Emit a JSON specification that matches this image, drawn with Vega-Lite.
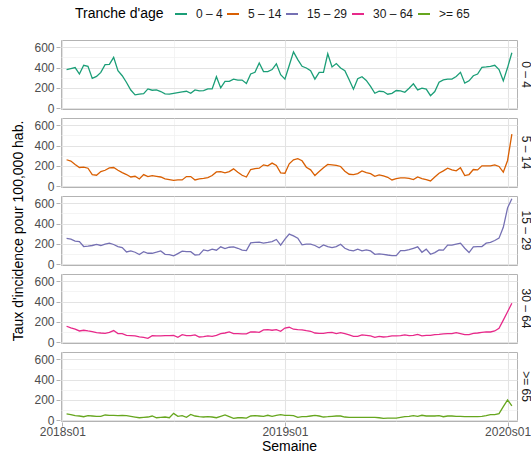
{
 "$schema": "https://vega.github.io/schema/vega-lite/v6.json",
 "padding": {"left": 11, "right": 0, "top": 7, "bottom": 1},
 "data": {"values": [
  {"s":1,"0 – 4":380,"5 – 14":261,"15 – 29":254,"30 – 64":158,">= 65":63},
  {"s":2,"0 – 4":390,"5 – 14":248,"15 – 29":248,"30 – 64":142,">= 65":56},
  {"s":3,"0 – 4":400,"5 – 14":215,"15 – 29":228,"30 – 64":129,">= 65":46},
  {"s":4,"0 – 4":337,"5 – 14":185,"15 – 29":224,"30 – 64":112,">= 65":43},
  {"s":5,"0 – 4":422,"5 – 14":188,"15 – 29":175,"30 – 64":119,">= 65":36},
  {"s":6,"0 – 4":412,"5 – 14":178,"15 – 29":178,"30 – 64":112,">= 65":46},
  {"s":7,"0 – 4":294,"5 – 14":116,"15 – 29":185,"30 – 64":106,">= 65":43},
  {"s":8,"0 – 4":313,"5 – 14":109,"15 – 29":195,"30 – 64":96,">= 65":40},
  {"s":9,"0 – 4":353,"5 – 14":145,"15 – 29":185,"30 – 64":92,">= 65":40},
  {"s":10,"0 – 4":429,"5 – 14":158,"15 – 29":198,"30 – 64":89,">= 65":53},
  {"s":11,"0 – 4":432,"5 – 14":182,"15 – 29":208,"30 – 64":99,">= 65":50},
  {"s":12,"0 – 4":500,"5 – 14":185,"15 – 29":195,"30 – 64":116,">= 65":50},
  {"s":13,"0 – 4":370,"5 – 14":158,"15 – 29":175,"30 – 64":86,">= 65":46},
  {"s":14,"0 – 4":320,"5 – 14":135,"15 – 29":165,"30 – 64":86,">= 65":50},
  {"s":15,"0 – 4":254,"5 – 14":116,"15 – 29":122,"30 – 64":69,">= 65":46},
  {"s":16,"0 – 4":180,"5 – 14":92,"15 – 29":132,"30 – 64":66,">= 65":40},
  {"s":17,"0 – 4":132,"5 – 14":99,"15 – 29":119,"30 – 64":63,">= 65":33},
  {"s":18,"0 – 4":139,"5 – 14":73,"15 – 29":96,"30 – 64":53,">= 65":26},
  {"s":19,"0 – 4":145,"5 – 14":116,"15 – 29":125,"30 – 64":50,">= 65":30},
  {"s":20,"0 – 4":191,"5 – 14":96,"15 – 29":109,"30 – 64":40,">= 65":33},
  {"s":21,"0 – 4":178,"5 – 14":106,"15 – 29":109,"30 – 64":66,">= 65":43},
  {"s":22,"0 – 4":181,"5 – 14":99,"15 – 29":119,"30 – 64":63,">= 65":26},
  {"s":23,"0 – 4":165,"5 – 14":92,"15 – 29":132,"30 – 64":63,">= 65":30},
  {"s":24,"0 – 4":142,"5 – 14":73,"15 – 29":99,"30 – 64":66,">= 65":33},
  {"s":25,"0 – 4":139,"5 – 14":66,"15 – 29":96,"30 – 64":66,">= 65":26},
  {"s":26,"0 – 4":148,"5 – 14":59,"15 – 29":83,"30 – 64":69,">= 65":69},
  {"s":27,"0 – 4":155,"5 – 14":63,"15 – 29":106,"30 – 64":50,">= 65":40},
  {"s":28,"0 – 4":162,"5 – 14":63,"15 – 29":129,"30 – 64":76,">= 65":46},
  {"s":29,"0 – 4":168,"5 – 14":96,"15 – 29":125,"30 – 64":66,">= 65":30},
  {"s":30,"0 – 4":148,"5 – 14":96,"15 – 29":125,"30 – 64":66,">= 65":59},
  {"s":31,"0 – 4":181,"5 – 14":63,"15 – 29":92,"30 – 64":73,">= 65":43},
  {"s":32,"0 – 4":172,"5 – 14":73,"15 – 29":96,"30 – 64":53,">= 65":36},
  {"s":33,"0 – 4":175,"5 – 14":79,"15 – 29":142,"30 – 64":56,">= 65":33},
  {"s":34,"0 – 4":191,"5 – 14":86,"15 – 29":132,"30 – 64":63,">= 65":36},
  {"s":35,"0 – 4":191,"5 – 14":106,"15 – 29":149,"30 – 64":59,">= 65":33},
  {"s":36,"0 – 4":310,"5 – 14":142,"15 – 29":139,"30 – 64":69,">= 65":26},
  {"s":37,"0 – 4":201,"5 – 14":145,"15 – 29":172,"30 – 64":86,">= 65":40},
  {"s":38,"0 – 4":264,"5 – 14":132,"15 – 29":155,"30 – 64":92,">= 65":53},
  {"s":39,"0 – 4":264,"5 – 14":145,"15 – 29":168,"30 – 64":102,">= 65":36},
  {"s":40,"0 – 4":287,"5 – 14":172,"15 – 29":172,"30 – 64":86,">= 65":20},
  {"s":41,"0 – 4":277,"5 – 14":139,"15 – 29":158,"30 – 64":86,">= 65":26},
  {"s":42,"0 – 4":277,"5 – 14":109,"15 – 29":139,"30 – 64":83,">= 65":26},
  {"s":43,"0 – 4":244,"5 – 14":92,"15 – 29":135,"30 – 64":83,">= 65":23},
  {"s":44,"0 – 4":337,"5 – 14":165,"15 – 29":211,"30 – 64":102,">= 65":43},
  {"s":45,"0 – 4":353,"5 – 14":175,"15 – 29":215,"30 – 64":102,">= 65":46},
  {"s":46,"0 – 4":445,"5 – 14":178,"15 – 29":218,"30 – 64":99,">= 65":43},
  {"s":47,"0 – 4":360,"5 – 14":211,"15 – 29":208,"30 – 64":122,">= 65":40},
  {"s":48,"0 – 4":360,"5 – 14":201,"15 – 29":215,"30 – 64":125,">= 65":50},
  {"s":49,"0 – 4":380,"5 – 14":228,"15 – 29":224,"30 – 64":119,">= 65":40},
  {"s":50,"0 – 4":436,"5 – 14":205,"15 – 29":244,"30 – 64":125,">= 65":50},
  {"s":51,"0 – 4":330,"5 – 14":132,"15 – 29":188,"30 – 64":109,">= 65":56},
  {"s":52,"0 – 4":287,"5 – 14":129,"15 – 29":248,"30 – 64":140,">= 65":50},
  {"s":53,"0 – 4":420,"5 – 14":221,"15 – 29":297,"30 – 64":148,">= 65":50},
  {"s":54,"0 – 4":554,"5 – 14":261,"15 – 29":280,"30 – 64":129,">= 65":46},
  {"s":55,"0 – 4":478,"5 – 14":271,"15 – 29":257,"30 – 64":125,">= 65":30},
  {"s":56,"0 – 4":412,"5 – 14":251,"15 – 29":191,"30 – 64":122,">= 65":36},
  {"s":57,"0 – 4":396,"5 – 14":188,"15 – 29":198,"30 – 64":115,">= 65":36},
  {"s":58,"0 – 4":370,"5 – 14":162,"15 – 29":198,"30 – 64":109,">= 65":43},
  {"s":59,"0 – 4":287,"5 – 14":106,"15 – 29":185,"30 – 64":92,">= 65":50},
  {"s":60,"0 – 4":353,"5 – 14":145,"15 – 29":162,"30 – 64":89,">= 65":43},
  {"s":61,"0 – 4":353,"5 – 14":182,"15 – 29":191,"30 – 64":89,">= 65":33},
  {"s":62,"0 – 4":535,"5 – 14":215,"15 – 29":175,"30 – 64":96,">= 65":36},
  {"s":63,"0 – 4":406,"5 – 14":211,"15 – 29":165,"30 – 64":99,">= 65":40},
  {"s":64,"0 – 4":439,"5 – 14":205,"15 – 29":175,"30 – 64":86,">= 65":43},
  {"s":65,"0 – 4":396,"5 – 14":195,"15 – 29":198,"30 – 64":96,">= 65":43},
  {"s":66,"0 – 4":370,"5 – 14":149,"15 – 29":158,"30 – 64":86,">= 65":33},
  {"s":67,"0 – 4":280,"5 – 14":119,"15 – 29":139,"30 – 64":73,">= 65":30},
  {"s":68,"0 – 4":188,"5 – 14":116,"15 – 29":132,"30 – 64":59,">= 65":30},
  {"s":69,"0 – 4":290,"5 – 14":125,"15 – 29":149,"30 – 64":59,">= 65":30},
  {"s":70,"0 – 4":310,"5 – 14":152,"15 – 29":132,"30 – 64":73,">= 65":30},
  {"s":71,"0 – 4":274,"5 – 14":135,"15 – 29":142,"30 – 64":69,">= 65":30},
  {"s":72,"0 – 4":215,"5 – 14":125,"15 – 29":132,"30 – 64":63,">= 65":30},
  {"s":73,"0 – 4":148,"5 – 14":99,"15 – 29":99,"30 – 64":50,">= 65":30},
  {"s":74,"0 – 4":168,"5 – 14":112,"15 – 29":102,"30 – 64":59,">= 65":26},
  {"s":75,"0 – 4":165,"5 – 14":102,"15 – 29":99,"30 – 64":53,">= 65":20},
  {"s":76,"0 – 4":139,"5 – 14":89,"15 – 29":92,"30 – 64":56,">= 65":23},
  {"s":77,"0 – 4":148,"5 – 14":63,"15 – 29":86,"30 – 64":63,">= 65":23},
  {"s":78,"0 – 4":175,"5 – 14":76,"15 – 29":86,"30 – 64":63,">= 65":23},
  {"s":79,"0 – 4":172,"5 – 14":83,"15 – 29":135,"30 – 64":66,">= 65":30},
  {"s":80,"0 – 4":158,"5 – 14":83,"15 – 29":135,"30 – 64":73,">= 65":36},
  {"s":81,"0 – 4":198,"5 – 14":79,"15 – 29":145,"30 – 64":66,">= 65":40},
  {"s":82,"0 – 4":241,"5 – 14":66,"15 – 29":158,"30 – 64":69,">= 65":46},
  {"s":83,"0 – 4":181,"5 – 14":92,"15 – 29":172,"30 – 64":79,">= 65":40},
  {"s":84,"0 – 4":198,"5 – 14":76,"15 – 29":119,"30 – 64":63,">= 65":50},
  {"s":85,"0 – 4":188,"5 – 14":66,"15 – 29":149,"30 – 64":69,">= 65":43},
  {"s":86,"0 – 4":125,"5 – 14":53,"15 – 29":99,"30 – 64":69,">= 65":43},
  {"s":87,"0 – 4":165,"5 – 14":92,"15 – 29":116,"30 – 64":76,">= 65":43},
  {"s":88,"0 – 4":257,"5 – 14":129,"15 – 29":142,"30 – 64":79,">= 65":46},
  {"s":89,"0 – 4":280,"5 – 14":152,"15 – 29":139,"30 – 64":83,">= 65":36},
  {"s":90,"0 – 4":287,"5 – 14":178,"15 – 29":188,"30 – 64":86,">= 65":43},
  {"s":91,"0 – 4":287,"5 – 14":162,"15 – 29":188,"30 – 64":86,">= 65":43},
  {"s":92,"0 – 4":313,"5 – 14":152,"15 – 29":198,"30 – 64":96,">= 65":40},
  {"s":93,"0 – 4":353,"5 – 14":182,"15 – 29":208,"30 – 64":86,">= 65":40},
  {"s":94,"0 – 4":247,"5 – 14":106,"15 – 29":158,"30 – 64":76,">= 65":36},
  {"s":95,"0 – 4":270,"5 – 14":116,"15 – 29":116,"30 – 64":76,">= 65":36},
  {"s":96,"0 – 4":320,"5 – 14":165,"15 – 29":172,"30 – 64":89,">= 65":36},
  {"s":97,"0 – 4":337,"5 – 14":162,"15 – 29":175,"30 – 64":92,">= 65":36},
  {"s":98,"0 – 4":402,"5 – 14":201,"15 – 29":175,"30 – 64":99,">= 65":40},
  {"s":99,"0 – 4":406,"5 – 14":201,"15 – 29":208,"30 – 64":102,">= 65":46},
  {"s":100,"0 – 4":412,"5 – 14":201,"15 – 29":215,"30 – 64":102,">= 65":56},
  {"s":101,"0 – 4":422,"5 – 14":211,"15 – 29":234,"30 – 64":112,">= 65":56},
  {"s":102,"0 – 4":380,"5 – 14":195,"15 – 29":257,"30 – 64":139,">= 65":66},
  {"s":103,"0 – 4":270,"5 – 14":139,"15 – 29":363,"30 – 64":218,">= 65":135},
  {"s":104,"0 – 4":400,"5 – 14":254,"15 – 29":554,"30 – 64":300,">= 65":201},
  {"s":105,"0 – 4":545,"5 – 14":512,"15 – 29":644,"30 – 64":383,">= 65":142}
 ]},
 "transform": [{"fold": ["0 – 4","5 – 14","15 – 29","30 – 64",">= 65"], "as": ["age","taux"]}],
 "facet": {"row": {"field": "age", "type": "nominal",
   "title": "Taux d'incidence pour 100,000 hab.",
   "sort": ["0 – 4","5 – 14","15 – 29","30 – 64",">= 65"],
   "header": {"titleOrient": "left", "titleAngle": -90, "titleFontSize": 14, "titleFontWeight": "normal", "titleColor": "#000000", "titleFont": "Liberation Sans", "titlePadding": -17,
     "labelOrient": "right", "labelAngle": 90, "labelFontSize": 12, "labelColor": "#1a1a1a", "labelFont": "Liberation Sans", "labelPadding": -4, "labelAlign": "center", "labelBaseline": "middle"}}},
 "spacing": {"row": 7},
 "spec": {
  "width": 456,
  "height": 69,
  "mark": {"type": "line", "strokeWidth": 1.3},
  "encoding": {
   "x": {"field": "s", "type": "quantitative", "title": "Semaine",
     "scale": {"domain": [-0.3, 106.2], "nice": false, "zero": false},
     "axis": {"values": [0, 26, 52, 78, 104], "labelPadding": 0,
       "labelExpr": "datum.value == 0 ? '2018s01' : datum.value == 52 ? '2019s01' : datum.value == 104 ? '2020s01' : ''",
       "gridColor": {"condition": {"test": "datum.value % 52 === 0", "value": "#e3e3e3"}, "value": "#efefef"},
       "gridWidth": {"condition": {"test": "datum.value % 52 === 0", "value": 1.1}, "value": 0.7},
       "tickOpacity": {"condition": {"test": "datum.value % 52 === 0", "value": 1}, "value": 0}}},
   "y": {"field": "taux", "type": "quantitative", "title": null,
     "scale": {"domain": [-6, 670], "nice": false},
     "axis": {"values": [0, 100, 200, 300, 400, 500, 600],
       "labelExpr": "datum.value % 200 === 0 ? datum.label : ''",
       "gridColor": {"condition": {"test": "datum.value % 200 === 0", "value": "#e3e3e3"}, "value": "#efefef"},
       "gridWidth": {"condition": {"test": "datum.value % 200 === 0", "value": 1.1}, "value": 0.7},
       "tickOpacity": {"condition": {"test": "datum.value % 200 === 0", "value": 1}, "value": 0}}},
   "color": {"field": "age", "type": "nominal", "title": "Tranche d'age",
     "sort": ["0 – 4","5 – 14","15 – 29","30 – 64",">= 65"],
     "scale": {"range": ["#1B9E77","#D95F02","#7570B3","#E7298A","#66A61E"]},
     "legend": {"orient": "none", "legendX": 14, "legendY": -33, "direction": "horizontal", "gridAlign": "none", "titleOrient": "left", "symbolType": "stroke", "symbolSize": 144, "symbolStrokeWidth": 2, "columnPadding": 0, "labelOffset": 8, "labelFontSize": 12, "titleFontSize": 14, "titleFontWeight": "normal", "titleColor": "#000000", "labelColor": "#1a1a1a", "titlePadding": 10}}
  }
 },
 "config": {
  "font": "Liberation Sans",
  "view": {"stroke": "#b3b3b3", "strokeWidth": 1},
  "axis": {"domain": false, "labelFontSize": 12, "labelColor": "#4d4d4d", "tickColor": "#b3b3b3", "tickSize": 4, "labelPadding": 2, "titleFontSize": 14, "titleFontWeight": "normal", "titleColor": "#000000"},
  "axisX": {"titlePadding": 2}
 }
}
